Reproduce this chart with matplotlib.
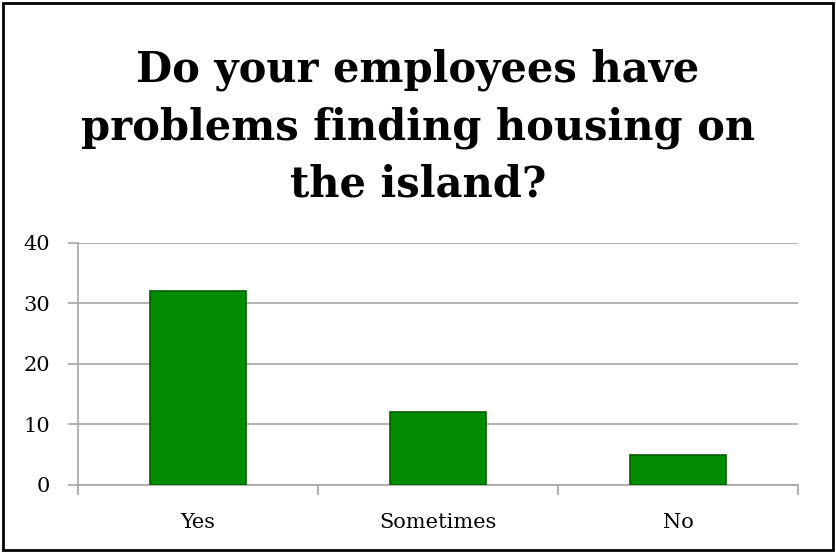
import matplotlib
matplotlib.use("Agg")
import matplotlib.pyplot as plt
from matplotlib.patches import Rectangle

categories = ["Yes", "Sometimes", "No"]
values = [32, 12, 5]
yticks = [0, 10, 20, 30, 40]
title = "Do your employees have\nproblems finding housing on\nthe island?"

fig = plt.figure(figsize=(8.36, 5.53), dpi=100)
fig.patch.set_facecolor("white")
fig.add_artist(Rectangle((0.004, 0.005), 0.992, 0.99, transform=fig.transFigure,
                         fill=False, edgecolor="black", linewidth=2))

ax = fig.add_axes([0.0933, 0.123, 0.8612, 0.4376])
x = range(len(categories))
ax.bar(x, values, width=0.4, color="#008C00", edgecolor="#005F00", linewidth=1.2, zorder=3)
ax.set_xlim(-0.5, len(categories) - 0.5)
ax.set_ylim(0, 40)
ax.set_yticks(yticks)
ax.set_yticklabels([str(t) for t in yticks], family="DejaVu Serif", fontsize=15)
ax.yaxis.grid(True, color="#A6A6A6", linewidth=1.2, zorder=0)
ax.set_xticks(list(x))
ax.set_xticklabels(categories, family="DejaVu Serif", fontsize=15)
ax.tick_params(axis="x", length=0, pad=20)
ax.set_xticks([i - 0.5 for i in range(len(categories) + 1)], minor=True)
ax.tick_params(axis="x", which="minor", length=7, color="#A6A6A6", width=1.2)
ax.tick_params(axis="y", length=7, color="#A6A6A6", width=1.2, pad=13)
for s in ["top", "right"]:
    ax.spines[s].set_visible(False)
for s in ["left", "bottom"]:
    ax.spines[s].set_color("#A6A6A6")
    ax.spines[s].set_linewidth(1.2)

fig.text(0.5, 0.770, title, ha="center", va="center", family="DejaVu Serif",
         fontweight="bold", fontsize=30, linespacing=1.45)

fig.savefig("out.png", dpi=100)
